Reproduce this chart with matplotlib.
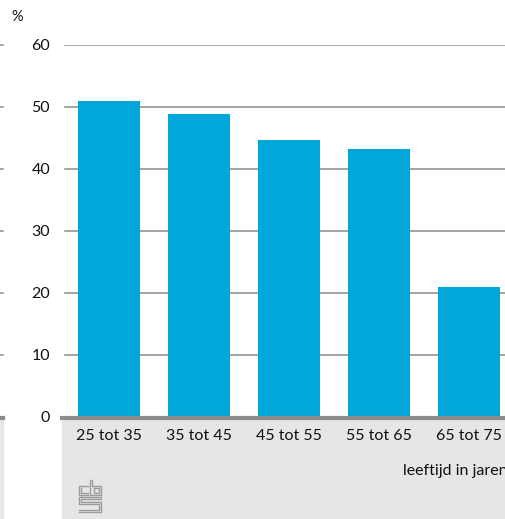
import matplotlib.pyplot as plt
from matplotlib.patches import Rectangle
from matplotlib.lines import Line2D

categories = ["25 tot 35", "35 tot 45", "45 tot 55", "55 tot 65", "65 tot 75"]
values = [51.0, 48.8, 44.6, 43.3, 21.0]
yticks = [0, 10, 20, 30, 40, 50, 60]

W, H = 506, 519
bar_color = "#00a7d8"
grid_color = "#8c8c8c"
band_color = "#e6e6e6"

plt.rcParams['font.family'] = ['Lato', 'DejaVu Sans']


def fx(x):
    return x / W


def fy(y):
    return 1 - y / H


fig = plt.figure(figsize=(W / 100, H / 100), dpi=100)

# grey band under the axis
fig.patches.append(Rectangle((fx(62), 0), 1, fy(417), transform=fig.transFigure,
                             color=band_color, zorder=-5))
fig.patches.append(Rectangle((0, 0), fx(3), fy(417), transform=fig.transFigure,
                             color=band_color, zorder=-5))

ax = fig.add_axes([fx(64), fy(417), 450 / W, 372 / H])
ax.set_zorder(2)
ax.set_facecolor("none")
x = list(range(len(categories)))
ax.bar(x, values, width=0.69, color=bar_color, zorder=3)
ax.set_xlim(-0.5, 4.5)
ax.set_ylim(0, 60)
ax.set_yticks(yticks)
ax.set_yticklabels([str(t) for t in yticks])
ax.set_xticks(x)
ax.set_xticklabels(categories)
for t in yticks[1:]:
    ax.axhline(t, color=grid_color, lw=1.1, zorder=1, xmin=0.003)
for s in ax.spines.values():
    s.set_visible(False)
ax.tick_params(axis="both", length=0, labelsize=11.5, colors="#111111")
ax.tick_params(axis="y", pad=10)
ax.tick_params(axis="x", pad=9)

# axis line
fig.add_artist(Line2D([fx(62), 1], [fy(418), fy(418)], color="#8c8c8c", lw=3, zorder=3))
fig.add_artist(Line2D([0, fx(3)], [fy(418), fy(418)], color="#8c8c8c", lw=3, zorder=3))
# stubs of the grid on the left edge
for t in yticks[1:]:
    yy = fy(417 - t * 6.2)
    fig.add_artist(Line2D([0, fx(3)], [yy, yy], color=grid_color, lw=1.1))

fig.text(fx(17), fy(17), "%", ha="center", va="center", fontsize=10.5, color="#111111")
fig.text(fx(403), fy(471), "leeftijd in jaren", ha="left", va="center", fontsize=11.5,
         color="#111111")

# cbs logo, rough outline
logo = [
    [(88, 486), (79, 486), (79, 495), (88, 495)],
    [(81, 488), (81, 493), (88, 493)],
    [(90, 480), (90, 495), (101, 495), (101, 486), (92, 486), (92, 480)],
    [(94, 488), (99, 488), (99, 493), (94, 493), (94, 488)],
    [(101, 497), (79, 497), (79, 504), (99, 504), (99, 510), (79, 510)],
    [(101, 499), (81, 499), (81, 502), (101, 502), (101, 512), (79, 512)],
]
for pts in logo:
    fig.add_artist(Line2D([fx(p[0]) for p in pts], [fy(p[1]) for p in pts],
                          color="#9a9a9a", lw=1.0))

fig.savefig("out.png", dpi=100)
